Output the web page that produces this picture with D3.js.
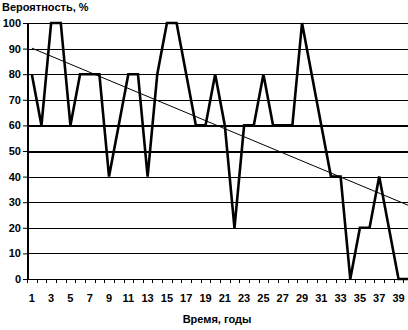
<!DOCTYPE html>
<html>
<head>
<meta charset="utf-8">
<script src="https://cdn.jsdelivr.net/npm/d3@7"></script>
<style>
  body { margin: 0; background: #fff; }
  svg { display: block; }
  text { font-family: "Liberation Sans", Arial, sans-serif; font-weight: bold; font-size: 11px; fill: #000; }
</style>
</head>
<body>
<svg id="chart" width="408" height="330"></svg>
<script>
// years 1..40
var years = d3.range(1, 41);
var probability = [80, 60, 100, 100, 60, 80, 80, 80, 40, 60,
                   80, 80, 40, 80, 100, 100, 80, 60, 60, 80,
                   60, 20, 60, 60, 80, 60, 60, 60, 100, 80,
                   60, 40, 40, 0, 20, 20, 40, 20, 0, 0];
var xTickLabels = d3.range(1, 40, 2);
var yTicks = d3.range(0, 101, 10);
var yTitle = 'Вероятность, %';
var xTitle = 'Время, годы';

var svg = d3.select('#chart');
var plotLeft = 27, plotRight = 413, plotTop = 23, plotBottom = 279;

var x = d3.scaleBand().domain(years).range([plotLeft, plotRight]).padding(0);
var xEdge = d3.scaleLinear().domain([0, years.length]).range([plotLeft, plotRight]);
var y = d3.scaleLinear().domain([0, 100]).range([plotBottom, plotTop]);
var cx = function(d) { return x(d) + x.bandwidth() / 2; };

// gridlines
svg.append('g')
   .selectAll('line')
   .data(yTicks.filter(function(d) { return d > 0; }))
   .enter()
   .append('line')
   .attr('x1', plotLeft).attr('x2', 408)
   .attr('y1', function(d) { return Math.round(y(d)) + 0.5; })
   .attr('y2', function(d) { return Math.round(y(d)) + 0.5; })
   .attr('stroke', '#000')
   .attr('stroke-width', function(d) { return (d == 50 || d == 60) ? 2 : 1; })
   .attr('shape-rendering', 'crispEdges');

// axes
var yAxis = svg.append('g')
   .attr('transform', 'translate(' + plotLeft + ',0)')
   .call(d3.axisLeft(y).tickValues(yTicks).tickSize(4).tickPadding(2).tickSizeOuter(0));
yAxis.select('.domain').attr('stroke-width', 2).attr('shape-rendering', 'crispEdges');

var xTicks = svg.append('g')
   .attr('transform', 'translate(0,' + plotBottom + ')')
   .call(d3.axisBottom(xEdge).tickValues(d3.range(0, years.length + 1)).tickFormat('').tickSize(4).tickSizeOuter(0));
xTicks.selectAll('line, path').attr('shape-rendering', 'crispEdges');

var xLabels = svg.append('g')
   .attr('transform', 'translate(0,' + plotBottom + ')')
   .call(d3.axisBottom(x).tickValues(xTickLabels).tickSize(0).tickPadding(15));
xLabels.select('.domain').remove();

svg.selectAll('.tick text').style('font-size', '11px').style('font-family', '"Liberation Sans", Arial, sans-serif').style('font-weight', 'bold');

// data line
var line = d3.line()
   .x(function(d, i) { return cx(years[i]); })
   .y(function(d) { return y(d); });

svg.append('path')
   .datum(probability)
   .attr('d', line)
   .attr('fill', 'none')
   .attr('stroke', '#000')
   .attr('stroke-width', 2.6)
   .attr('stroke-linejoin', 'miter')
   .attr('stroke-miterlimit', 2);

// linear trend (least squares)
var mx = d3.mean(years), my = d3.mean(probability);
var sxy = d3.sum(years, function(d, i) { return (d - mx) * (probability[i] - my); });
var sxx = d3.sum(years, function(d) { return (d - mx) * (d - mx); });
var slope = sxy / sxx, icept = my - slope * mx;
var trend = [years[0], years[years.length - 1]];

svg.append('line')
   .attr('x1', cx(trend[0])).attr('y1', y(icept + slope * trend[0]))
   .attr('x2', cx(trend[1])).attr('y2', y(icept + slope * trend[1]))
   .attr('stroke', '#000')
   .attr('stroke-width', 1);

// titles
svg.append('text').attr('x', 2).attr('y', 11).text(yTitle);
svg.append('text').attr('x', 217).attr('y', 323).attr('text-anchor', 'middle').text(xTitle);
</script>
</body>
</html>
